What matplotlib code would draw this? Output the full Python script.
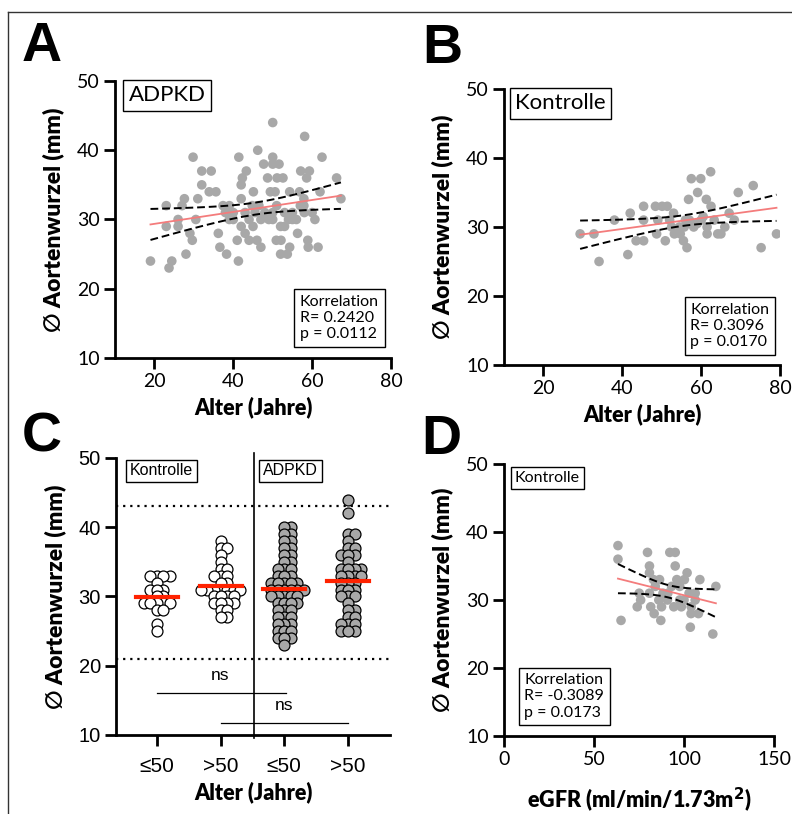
import numpy as np
import matplotlib
matplotlib.use("Agg")
import matplotlib.pyplot as plt
from matplotlib.lines import Line2D

# Panel A: ADPKD, Alter vs Aortenwurzel
adpkd_age = [19, 23, 23, 23.7, 24.4, 26, 26, 27, 27.6, 28, 29, 29.6, 29.8, 30.5, 31, 32, 32,
             33.9, 34.4, 35.6, 36.2, 36.6, 37.4, 38, 38.3, 39, 39, 40, 40, 41, 41.3, 41.4, 42,
             42, 42, 42.3, 43, 43.3, 43, 44, 44, 44.8, 45, 45.1, 45.5, 46, 46.2, 46.5, 47, 47,
             47.7, 48, 48.7, 49, 49.4, 50, 50, 50, 50, 50, 50.6, 50.9, 51, 51.1, 51.6, 52, 52.1,
             52.6, 52, 53, 53, 54, 54.3, 54.3, 53.7, 55, 55, 56, 56.3, 56.8, 57, 57.1, 57.9,
             57.9, 58, 58.1, 58.6, 58.9, 59.3, 59, 60, 60.7, 61.5, 62, 62.5, 66.2, 67.3]
adpkd_aorta = [24, 32, 29, 23, 24, 30, 29, 32, 33, 25, 28, 27, 39, 30, 33, 37, 35,
               34, 37, 34, 28, 26, 32, 31, 25, 32, 30, 31, 30, 27, 24, 39, 35,
               33, 29, 36, 31, 37, 28, 27, 30, 32, 29, 34, 31, 27, 40, 32, 26, 30,
               38, 31, 36, 30, 34, 44, 39, 38, 31, 30, 34, 27, 32, 36, 38, 29, 27,
               36, 25, 31, 29, 30, 34, 26, 25, 31, 30, 30, 28, 34, 32, 37, 33,
               32, 31, 42, 36, 27, 37, 26, 31, 30, 26, 34, 39, 36, 33]

# Panel B: Kontrolle, Alter vs Aortenwurzel
kontr_age = [29.3, 32.8, 34.1, 38, 41.4, 42, 43.5, 45.4, 45.4, 45.4, 48.4, 50.1, 51.4, 49, 48.7,
             50.9, 53, 52, 53.2, 54.7, 55.5, 56.4, 54.5, 55.7, 56.8, 59.1, 57.5, 59.9, 62.4,
             61.3, 62.5, 58.1, 60, 57, 61.5, 61.5, 63.3, 64.2, 65, 66, 67.1, 68.4, 69.4, 73.2,
             75.2, 79.1, 52.5, 56, 59, 60.5]
kontr_aorta = [29, 29, 25, 31, 26, 32, 28, 28, 33, 31, 33, 33, 33, 31, 29,
               28, 32, 31, 29, 29, 28, 27, 30, 30, 34, 35, 37, 37, 38,
               34, 33, 30, 31, 31, 30, 29, 31, 29, 29, 30, 32, 31, 35, 36,
               27, 29, 30, 31, 30.5, 31.5]

# Panel C: Gruppen nach Alter
groups = ["≤50", ">50", "≤50", ">50"]
c_kontr_le50 = [33, 33, 33, 33, 32, 31, 31, 31, 30, 30, 29, 29, 29, 29, 29, 28, 28, 26, 25]
c_kontr_gt50 = [38, 37, 37, 36, 35, 34, 34, 33, 33, 33, 32, 32, 31, 31, 31, 31, 31, 31, 31,
                30, 30, 30, 30, 29, 29, 29, 29, 28, 28, 27, 27]
c_adpkd_le50 = [40, 40, 39, 39, 38, 38, 37, 37, 36, 36, 35, 35, 34, 34, 34, 33, 33, 33, 32, 32,
                32, 32, 32, 31, 31, 31, 31, 31, 31, 30, 30, 30, 30, 30, 29, 29, 29, 29, 28, 28,
                28, 27, 27, 27, 26, 26, 26, 25, 25, 25, 24, 24, 24, 23]
c_adpkd_gt50 = [44, 42, 39, 39, 38, 37, 37, 36, 36, 36, 35, 34, 34, 34, 34, 33, 33, 33, 33, 32,
                32, 32, 31, 31, 31, 30, 30, 30, 29, 28, 28, 27, 27, 26, 26, 26, 25, 25, 25]

# Panel D: Kontrolle, eGFR vs Aortenwurzel
egfr = [63.3, 63.3, 65, 79.7, 92.1, 95.1, 80.8, 95.1, 80.8, 83, 86.4, 101.7, 100.2, 108.8, 93.1,
        97.6, 117.7, 75.1, 80.8, 88.3, 102.8, 106.2, 75.9, 86, 90.8, 97.6, 106.2, 74, 81.5, 87.5,
        94.3, 98.5, 83.4, 103.9, 108, 87.1, 103.5, 116, 84, 91, 100, 104, 96]
egfr_aorta = [38, 36, 27, 37, 37, 37, 35, 35, 34, 33, 33, 34, 33, 33, 32,
              32, 32, 31, 31, 31, 31, 31, 30, 30, 30, 30, 30, 29, 29, 29,
              29, 29, 28, 28, 28, 27, 26, 25, 32, 31, 30, 29, 33]

stats_A = "Korrelation\nR= 0.2420\np = 0.0112"
stats_B = "Korrelation\nR= 0.3096\np = 0.0170"
stats_D = "Korrelation\nR= -0.3089\np = 0.0173"

HUM = ["Lato", "DejaVu Sans"]
ARI = ["Liberation Sans", "DejaVu Sans"]
GRAY = "#a8a8a8"

fig = plt.figure(figsize=(7.92, 8.14), dpi=100)


def style(ax, fam, size=14):
    for s in ["top", "right"]:
        ax.spines[s].set_visible(False)
    for s in ["left", "bottom"]:
        ax.spines[s].set_linewidth(2)
    ax.tick_params(width=2, length=8, labelsize=size, pad=3)
    for lab in ax.get_xticklabels() + ax.get_yticklabels():
        lab.set_family(fam)


def regplot(ax, x, y):
    x = np.asarray(x, float)
    y = np.asarray(y, float)
    n = len(x)
    b, a = np.polyfit(x, y, 1)
    xg = np.linspace(x.min(), x.max(), 100)
    yh = a + b * xg
    s = np.sqrt(np.sum((y - (a + b * x)) ** 2) / (n - 2))
    se = s * np.sqrt(1 / n + (xg - x.mean()) ** 2 / np.sum((x - x.mean()) ** 2))
    ax.scatter(x, y, s=48, color=GRAY, edgecolors="none", zorder=2)
    ax.plot(xg, yh, color="#f47c7c", lw=1.3, zorder=3)
    ax.plot(xg, yh + 1.98 * se, color="black", lw=1.4, ls=(0, (4, 2)), zorder=3)
    ax.plot(xg, yh - 1.98 * se, color="black", lw=1.4, ls=(0, (4, 2)), zorder=3)


def box(ax, x, y, txt, size, fam, va="top", ls=1.0, pad=0.25):
    ax.text(x, y, txt, transform=ax.transAxes, fontsize=size, family=fam, va=va, ha="left",
            linespacing=ls,
            bbox=dict(boxstyle="square,pad=%s" % pad, fc="white", ec="black", lw=1))


def labels(ax, xlab):
    ax.set_xlabel(xlab, fontsize=15.5, fontweight="heavy", family=HUM, labelpad=4)
    ax.set_ylabel("∅ Aortenwurzel (mm)", fontsize=16.5, fontweight="heavy", family=HUM,
                  labelpad=9)


# ---- A
axA = fig.add_axes([0.1452, 0.5602, 0.3485, 0.3403])
regplot(axA, adpkd_age, adpkd_aorta)
axA.set_xlim(10, 80)
axA.set_ylim(10, 50)
axA.set_xticks([20, 40, 60, 80])
axA.set_yticks([10, 20, 30, 40, 50])
style(axA, HUM)
labels(axA, "Alter (Jahre)")
box(axA, 0.05, 0.985, "ADPKD", 16, HUM)
box(axA, 0.67, 0.06, stats_A, 11.5, HUM, va="bottom", ls=1.2, pad=0.35)

# ---- B
axB = fig.add_axes([0.6364, 0.5516, 0.3485, 0.3391])
regplot(axB, kontr_age, kontr_aorta)
axB.set_xlim(10, 80)
axB.set_ylim(10, 50)
axB.set_xticks([20, 40, 60, 80])
axB.set_yticks([10, 20, 30, 40, 50])
style(axB, HUM)
labels(axB, "Alter (Jahre)")
box(axB, 0.04, 0.985, "Kontrolle", 16, HUM)
box(axB, 0.675, 0.057, stats_B, 11.5, HUM, va="bottom", ls=1.2, pad=0.35)


# ---- C
def swarm(vals, center, sx, sy, d):
    vals = np.asarray(vals, float)
    placed = []
    xs = np.zeros(len(vals))
    for i in np.argsort(vals):
        yp = vals[i] * sy
        cands = [0.0]
        for px, py in placed:
            dy = yp - py
            if abs(dy) < d:
                dx = np.sqrt(d * d - dy * dy)
                cands += [px + dx, px - dx]
        cands.sort(key=abs)
        for c in cands:
            if all((c - px) ** 2 + (yp - py) ** 2 >= d * d - 1e-6 for px, py in placed):
                break
        placed.append((c, yp))
        xs[i] = c
    return center + xs / sx


axC = fig.add_axes([0.1465, 0.0971, 0.3460, 0.3403])
axC.set_xlim(0.36, 4.66)
axC.set_ylim(10, 50)
c_data = [c_kontr_le50, c_kontr_gt50, c_adpkd_le50, c_adpkd_gt50]
for k, vals in enumerate(c_data):
    pos = k + 1
    xs = swarm(vals, pos, 64.0, 6.925, 6.6)
    fc = "white" if k < 2 else GRAY
    axC.scatter(xs, vals, s=62, facecolor=fc, edgecolor="black", lw=0.9, zorder=2)
    axC.plot([pos - 0.33, pos + 0.33], [np.mean(vals)] * 2, color="#ff2200", lw=3, zorder=4)
axC.axhline(43, color="black", ls=(0, (1, 2.2)), lw=1.6, zorder=1)
axC.axhline(21, color="black", ls=(0, (1, 2.2)), lw=1.6, zorder=1)
axC.plot([2.52, 2.52], [50.7, 9.6], color="black", lw=1.2, clip_on=False, zorder=5)
axC.plot([1, 3.02], [16.1, 16.1], color="black", lw=0.9)
axC.plot([2, 4], [11.7, 11.7], color="black", lw=0.9)
axC.text(2.0, 18.6, "ns", ha="center", va="center", fontsize=12.5, family=ARI)
axC.text(3.0, 14.3, "ns", ha="center", va="center", fontsize=12.5, family=ARI)
axC.set_xticks([1, 2, 3, 4])
axC.set_xticklabels(groups)
axC.set_yticks([10, 20, 30, 40, 50])
style(axC, ARI, size=14.5)
axC.tick_params(axis="x", labelsize=15, pad=8)
labels(axC, "Alter (Jahre)")
box(axC, 0.05, 0.98, "Kontrolle", 11.5, ARI)
box(axC, 0.535, 0.98, "ADPKD", 11.5, ARI)

# ---- D
axD = fig.add_axes([0.6364, 0.0958, 0.3409, 0.3342])
regplot(axD, egfr, egfr_aorta)
axD.set_xlim(0, 150)
axD.set_ylim(10, 50)
axD.set_xticks([0, 50, 100, 150])
axD.set_yticks([10, 20, 30, 40, 50])
style(axD, HUM)
labels(axD, "eGFR (ml/min/1.73m$^\\mathbf{2}$)")
axD.xaxis.labelpad = 12
box(axD, 0.04, 0.975, "Kontrolle", 11.5, HUM)
box(axD, 0.075, 0.06, stats_D, 11.5, HUM, va="bottom", ls=1.2, pad=0.35)

# panel letters
for lab, (px, py) in zip("ABCD", [(42, 47), (442, 49), (42, 438), (441, 440)]):
    fig.text(px / 792, 1 - py / 814, lab, fontsize=40, fontweight="heavy", family=ARI,
             ha="center", va="center")

# frame lines
fig.add_artist(Line2D([8 / 792, 1], [1 - 12 / 814] * 2, color="#333333", lw=1))
fig.add_artist(Line2D([8 / 792] * 2, [0, 1 - 12 / 814], color="#333333", lw=1))

fig.savefig("out.png", dpi=100)
